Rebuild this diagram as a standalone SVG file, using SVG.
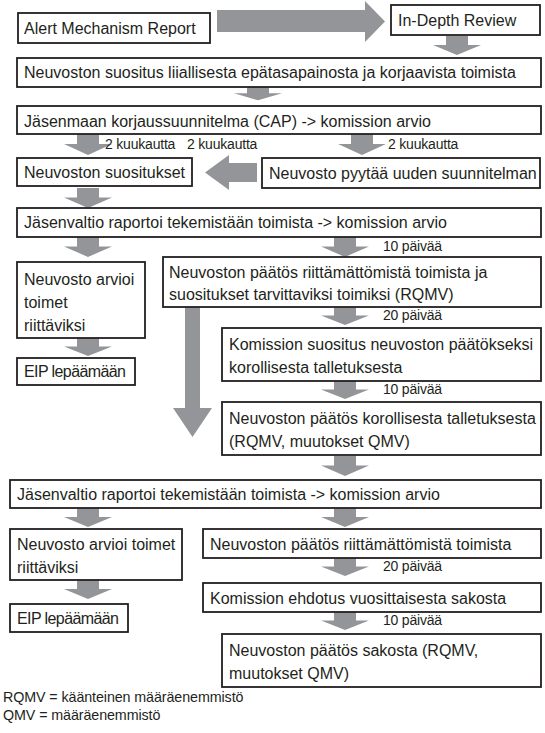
<svg xmlns="http://www.w3.org/2000/svg" xmlns:xlink="http://www.w3.org/1999/xlink" width="545" height="733" viewBox="0 0 545 733">
<style>
.box{fill:#fff;stroke:#231f20;stroke-width:1.8}
.t{font-family:"Liberation Sans",Arial,sans-serif;font-size:16px;fill:#231f20}
.l{font-family:"Liberation Sans",Arial,sans-serif;font-size:14px;fill:#231f20;letter-spacing:-0.2px}
.g{font-family:"Liberation Sans",Arial,sans-serif;font-size:14.3px;fill:#231f20;letter-spacing:-0.1px}
.arr{fill:#939598}
</style>
<defs>
<path id="da" d="M-11,0 H11 V9 H24 L0,19 L-24,9 H-11 Z"/>
</defs>
<rect width="545" height="733" fill="#fff"/>
<g id="connectors" class="arr">
<path d="M217,10 H365 V1 L385,21.5 L365,42 V32 H217 Z"/>
<use xlink:href="#da" transform="translate(457,36)"/>
<use xlink:href="#da" transform="translate(258,87) scale(1,0.7)"/>
<use xlink:href="#da" transform="translate(88,134) scale(1,1.1)"/>
<use xlink:href="#da" transform="translate(362,134) scale(1,1.1)"/>
<path d="M257,163 H229 V155 L205,172.5 L229,190 V182 H257 Z"/>
<use xlink:href="#da" transform="translate(88,188) scale(1,1.05)"/>
<use xlink:href="#da" transform="translate(88,237) scale(1,1.05)"/>
<use xlink:href="#da" transform="translate(345,237) scale(1,1.05)"/>
<path d="M185,307 H200 V408 H212 L192.5,437 L173,408 H185 Z"/>
<use xlink:href="#da" transform="translate(88,338) scale(1,0.95)"/>
<use xlink:href="#da" transform="translate(345,307) scale(1,0.95)"/>
<use xlink:href="#da" transform="translate(345,381) scale(1,0.95)"/>
<use xlink:href="#da" transform="translate(345,456) scale(1,1.05)"/>
<use xlink:href="#da" transform="translate(88,508) scale(1,1.0)"/>
<use xlink:href="#da" transform="translate(345,508) scale(1,1.0)"/>
<use xlink:href="#da" transform="translate(345,558) scale(1,0.95)"/>
<use xlink:href="#da" transform="translate(88,580) scale(1,1.0)"/>
<use xlink:href="#da" transform="translate(345,612) scale(1,0.95)"/>
</g>
<g id="labels">
<text class="l" x="105" y="149">2 kuukautta</text>
<text class="l" x="187" y="149">2 kuukautta</text>
<text class="l" x="388" y="149">2 kuukautta</text>
<text class="l" x="383" y="251">10 päivää</text>
<text class="l" x="383" y="320">20 päivää</text>
<text class="l" x="383" y="394">10 päivää</text>
<text class="l" x="383" y="571">20 päivää</text>
<text class="l" x="383" y="625">10 päivää</text>
</g>
<g id="n1"><rect class="box" x="18" y="13" width="192" height="30"/><text class="t" x="24" y="34">Alert Mechanism Report</text></g>
<g id="n2"><rect class="box" x="391" y="5" width="149" height="30"/><text class="t" x="398" y="26">In-Depth Review</text></g>
<g id="n3"><rect class="box" x="17" y="58" width="524" height="29"/><text class="t" x="24" y="78">Neuvoston suositus liiallisesta epätasapainosta ja korjaavista toimista</text></g>
<g id="n4"><rect class="box" x="17" y="106" width="524" height="28"/><text class="t" x="24" y="127">Jäsenmaan korjaussuunnitelma (CAP) -&gt; komission arvio</text></g>
<g id="n5"><rect class="box" x="17" y="158" width="175" height="28"/><text class="t" x="24" y="178">Neuvoston suositukset</text></g>
<g id="n6"><rect class="box" x="262" y="158" width="278" height="30"/><text class="t" x="269" y="179">Neuvosto pyytää uuden suunnitelman</text></g>
<g id="n7"><rect class="box" x="17" y="208" width="524" height="29"/><text class="t" x="24" y="228">Jäsenvaltio raportoi tekemistään toimista -&gt; komission arvio</text></g>
<g id="n8"><rect class="box" x="17" y="262" width="128" height="76"/><text class="t" x="24" y="285">Neuvosto arvioi</text><text class="t" x="24" y="308">toimet</text><text class="t" x="24" y="331">riittäviksi</text></g>
<g id="n9"><rect class="box" x="163" y="257" width="378" height="50"/><text class="t" x="169" y="278">Neuvoston päätös riittämättömistä toimista ja</text><text class="t" x="169" y="300">suositukset tarvittaviksi toimiksi (RQMV)</text></g>
<g id="n10"><rect class="box" x="17" y="358" width="118" height="27"/><text class="t" x="24" y="377" textLength="102" lengthAdjust="spacing">EIP lepäämään</text></g>
<g id="n11"><rect class="box" x="222" y="328" width="319" height="53"/><text class="t" x="229" y="350">Komission suositus neuvoston päätökseksi</text><text class="t" x="229" y="373">korollisesta talletuksesta</text></g>
<g id="n12"><rect class="box" x="222" y="402" width="319" height="53"/><text class="t" x="229" y="424">Neuvoston päätös korollisesta talletuksesta</text><text class="t" x="229" y="447">(RQMV, muutokset QMV)</text></g>
<g id="n13"><rect class="box" x="10" y="480" width="531" height="28"/><text class="t" x="17" y="500">Jäsenvaltio raportoi tekemistään toimista -&gt; komission arvio</text></g>
<g id="n14"><rect class="box" x="10" y="529" width="172" height="51"/><text class="t" x="17" y="550">Neuvosto arvioi toimet</text><text class="t" x="17" y="573">riittäviksi</text></g>
<g id="n15"><rect class="box" x="203" y="529" width="338" height="29"/><text class="t" x="210" y="550">Neuvoston päätös riittämättömistä toimista</text></g>
<g id="n16"><rect class="box" x="10" y="604" width="118" height="28"/><text class="t" x="17" y="624" textLength="102" lengthAdjust="spacing">EIP lepäämään</text></g>
<g id="n17"><rect class="box" x="203" y="583" width="338" height="29"/><text class="t" x="210" y="604">Komission ehdotus vuosittaisesta sakosta</text></g>
<g id="n18"><rect class="box" x="222" y="634" width="319" height="53"/><text class="t" x="229" y="656">Neuvoston päätös sakosta (RQMV,</text><text class="t" x="229" y="679">muutokset QMV)</text></g>
<g id="legend">
<text class="g" x="3" y="702">RQMV = käänteinen määräenemmistö</text>
<text class="g" x="3" y="720">QMV = määräenemmistö</text>
</g>
</svg>
